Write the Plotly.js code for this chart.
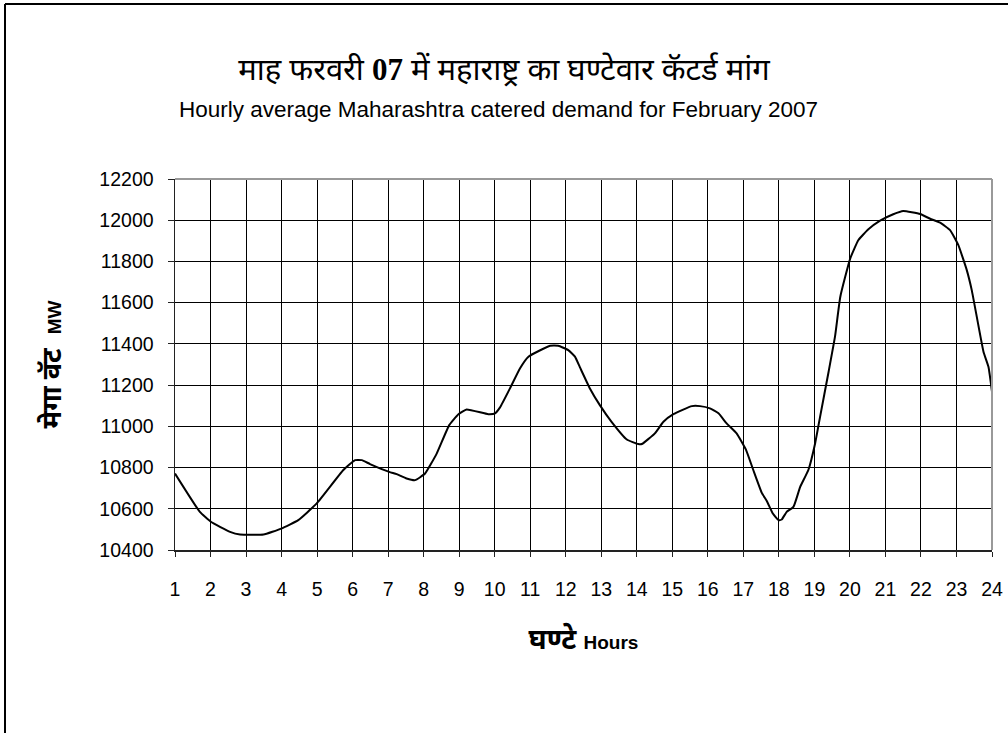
<!DOCTYPE html>
<html>
<head>
<meta charset="utf-8">
<script src="https://cdn.plot.ly/plotly-3.0.1.min.js"></script>
<style>
html,body{margin:0;padding:0;background:#fff;}
#chart{width:1008px;height:733px;}
</style>
</head>
<body>
<div id="chart"></div>
<script>
// Hour positions (fractional hours as traced) and demand in MW
const hours = [1.00, 1.70, 2.01, 2.55, 2.83, 3.49, 3.99, 4.47, 4.99, 5.74, 6.07, 6.26, 6.49, 7.03, 7.24, 7.52, 7.76, 8.04, 8.37, 8.72, 8.98, 9.21, 9.82, 10.01, 10.15, 10.43, 10.71, 10.95, 11.56, 11.79, 12.07, 12.26, 12.40, 12.68, 12.96, 13.29, 13.72, 14.04, 14.14, 14.51, 14.75, 15.03, 15.55, 15.78, 16.06, 16.30, 16.53, 16.81, 17.07, 17.28, 17.52, 17.66, 17.83, 17.99, 18.08, 18.22, 18.41, 18.60, 18.83, 19.02, 19.16, 19.40, 19.58, 19.73, 20.01, 20.24, 20.52, 20.85, 21.22, 21.50, 21.98, 22.26, 22.54, 22.82, 23.05, 23.29, 23.43, 23.76, 23.90, 24.00];
const demandMW = [10771, 10585, 10537, 10488, 10475, 10475, 10504, 10545, 10626, 10788, 10836, 10836, 10817, 10779, 10768, 10747, 10739, 10771, 10869, 11006, 11059, 11082, 11059, 11063, 11092, 11184, 11281, 11338, 11391, 11391, 11370, 11338, 11286, 11184, 11103, 11022, 10936, 10914, 10914, 10966, 11022, 11059, 11098, 11098, 11087, 11063, 11014, 10966, 10888, 10788, 10677, 10638, 10577, 10545, 10548, 10585, 10609, 10706, 10788, 10917, 11046, 11265, 11435, 11629, 11815, 11904, 11956, 11998, 12029, 12045, 12030, 12007, 11988, 11952, 11880, 11758, 11661, 11362, 11289, 11168];
const hourTicks = [1,2,3,4,5,6,7,8,9,10,11,12,13,14,15,16,17,18,19,20,21,22,23,24];
const mwTicks = [10400,10600,10800,11000,11200,11400,11600,11800,12000,12200];

const titleHindi = 'माह फरवरी <span style="font-family:\'Liberation Serif\',serif;font-weight:bold">07</span> में महाराष्ट्र का घण्टेवार कॅटर्ड मांग';
const subtitleEn = 'Hourly average Maharashtra catered demand for February 2007';
const xTitle = '<b>घण्टे</b> <b><span style="font-family:\'Liberation Sans\',Arial,sans-serif;font-size:19px">Hours</span></b>';
const yTitle = '<b>मेगा वॅट</b>  <b><span style="font-family:\'Liberation Sans\',Arial,sans-serif;font-size:19px">MW</span></b>';

const sansFont = '"Liberation Sans", Arial, sans-serif';
const devFont = '"Noto Sans Devanagari", "Noto Sans", "Lohit Devanagari", "FreeSans", sans-serif';

const trace = {
  x: hours, y: demandMW, type: 'scatter', mode: 'lines',
  line: {color: '#000', width: 2, shape: 'spline', smoothing: 0.4},
  hoverinfo: 'x+y'
};

const layout = {
  width: 1008, height: 733,
  paper_bgcolor: '#fff', plot_bgcolor: '#fff',
  margin: {l: 175, r: 16, t: 179, b: 183},
  showlegend: false,
  title: {
    text: titleHindi,
    font: {family: devFont, size: 31, color: '#000'},
    x: 0.5, xref: 'container', xanchor: 'center',
    y: 1 - 69/733, yref: 'container', yanchor: 'middle'
  },
  xaxis: {
    range: [1, 24], tickvals: hourTicks, ticktext: hourTicks.map(String),
    showgrid: true, gridcolor: '#000', gridwidth: 1,
    showline: true, linecolor: '#222', linewidth: 1.5,
    ticks: 'outside', ticklen: 5, tickcolor: '#222', tickwidth: 1,
    ticklabelstandoff: 16,
    tickfont: {family: sansFont, size: 19.5, color: '#000'},
    zeroline: false,
    title: {text: xTitle, font: {family: devFont, size: 28, color: '#000'}, standoff: 30}
  },
  yaxis: {
    range: [10400, 12200], tickvals: mwTicks, ticktext: mwTicks.map(String),
    showgrid: true, gridcolor: '#000', gridwidth: 1,
    showline: true, linecolor: '#222', linewidth: 1.5,
    ticks: 'outside', ticklen: 6, tickcolor: '#222', tickwidth: 1,
    ticklabelstandoff: 10,
    tickfont: {family: sansFont, size: 19.5, color: '#000'},
    zeroline: false,
    title: {text: yTitle, font: {family: devFont, size: 27, color: '#000'}, standoff: 30}
  },
  annotations: [{
    text: subtitleEn, showarrow: false,
    xref: 'paper', yref: 'paper', x: (498.5-175)/817, y: (550-109)/371,
    xanchor: 'center', yanchor: 'middle',
    font: {family: sansFont, size: 22.5, color: '#000'}
  }],
  shapes: [
    // plot-area top and right border (gray)
    {type: 'line', xref: 'paper', yref: 'paper', x0: 0, x1: 1, y0: 1, y1: 1, line: {color: '#999', width: 2}, layer: 'above'},
    {type: 'line', xref: 'paper', yref: 'paper', x0: 1, x1: 1, y0: 0, y1: 1, line: {color: '#999', width: 2}, layer: 'above'},
    // outer chart frame (left and top)
    {type: 'line', xref: 'paper', yref: 'paper', x0: (5-175)/817, x1: (5-175)/817, y0: (550-740)/371, y1: (550-4)/371, line: {color: '#000', width: 2}, layer: 'above'},
    {type: 'line', xref: 'paper', yref: 'paper', x0: (5-175)/817, x1: (1020-175)/817, y0: (550-4)/371, y1: (550-4)/371, line: {color: '#000', width: 2}, layer: 'above'}
  ]
};

Plotly.newPlot('chart', [trace], layout, {staticPlot: true, displayModeBar: false});
</script>
</body>
</html>
